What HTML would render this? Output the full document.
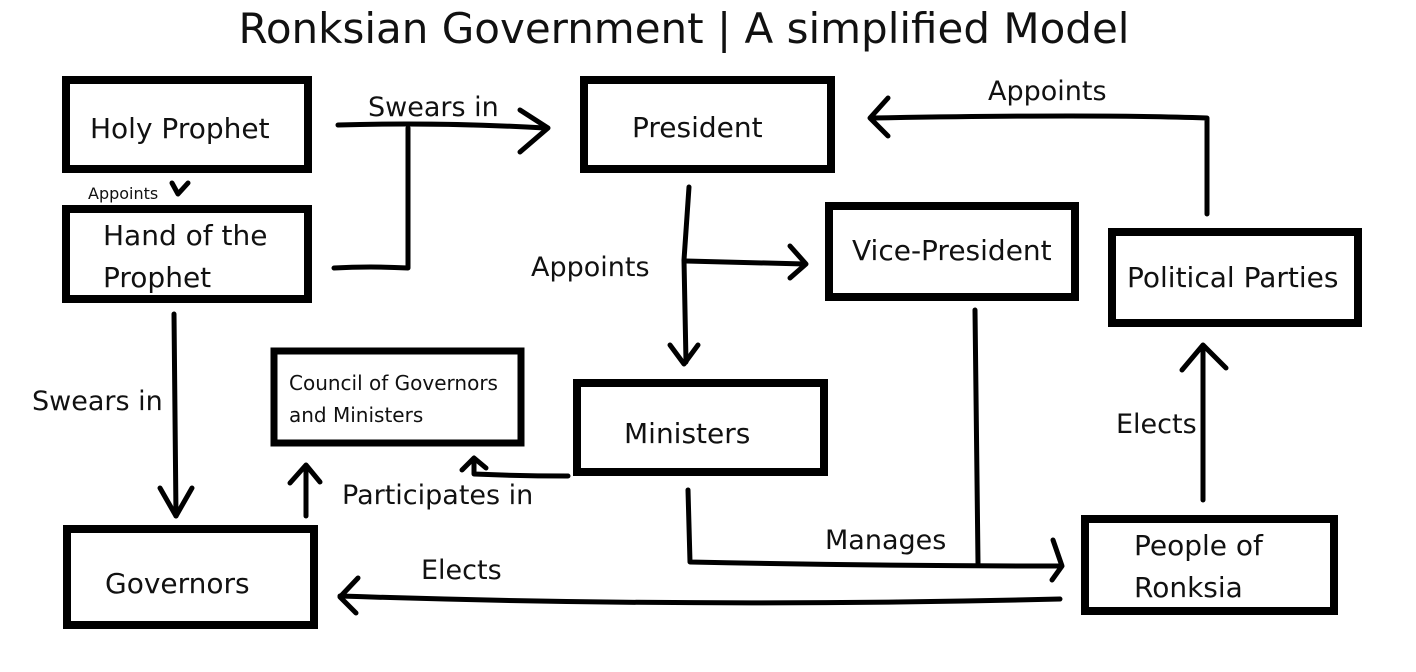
<!DOCTYPE html>
<html><head><meta charset="utf-8"><style>
html,body{margin:0;padding:0;background:#fff;}
svg{display:block;}
text{font-family:"DejaVu Sans","Liberation Sans",sans-serif;fill:#111;}
</style></head><body>
<svg width="1416" height="672" viewBox="0 0 1416 672" xmlns="http://www.w3.org/2000/svg">
<text x="684" y="43" font-size="42" text-anchor="middle">Ronksian Government | A simplified Model</text>
<g fill="none" stroke="#000" stroke-width="8">
<rect x="66" y="80" width="242" height="89"/>
<rect x="66" y="209" width="242" height="90"/>
<rect x="584" y="80" width="247" height="89"/>
<rect x="829" y="206" width="246" height="91"/>
<rect x="1112" y="232" width="246" height="91"/>
<rect x="274" y="351" width="247" height="92" stroke-width="7"/>
<rect x="577" y="383" width="247" height="89"/>
<rect x="67" y="529" width="247" height="96"/>
<rect x="1085" y="519" width="249" height="92"/>
</g>
<g font-size="28">
<text x="90" y="138">Holy Prophet</text>
<text x="103" y="245">Hand of the</text>
<text x="103" y="287">Prophet</text>
<text x="632" y="137">President</text>
<text x="852" y="260">Vice-President</text>
<text x="1127" y="287">Political Parties</text>
<text x="624" y="443">Ministers</text>
<text x="105" y="593">Governors</text>
<text x="1134" y="555">People of</text>
<text x="1134" y="597">Ronksia</text>
</g>
<g font-size="20">
<text x="289" y="390">Council of Governors</text>
<text x="289" y="422">and Ministers</text>
</g>
<g font-size="27">
<text x="368" y="116">Swears in</text>
<text x="988" y="100">Appoints</text>
<text x="531" y="276">Appoints</text>
<text x="32" y="410">Swears in</text>
<text x="1116" y="433">Elects</text>
<text x="342" y="504">Participates in</text>
<text x="825" y="549">Manages</text>
<text x="421" y="579">Elects</text>
</g>
<text x="88" y="199" font-size="16">Appoints</text>
<g fill="none" stroke="#000" stroke-width="5" stroke-linecap="round" stroke-linejoin="round">
<path d="M172 183 L178 194 L188 183"/>
<path d="M338 125 Q440 122 545 128"/>
<path d="M520 110 L548 128 L520 152"/>
<path d="M408 128 L408 268 Q370 266 334 268"/>
<path d="M1207 214 L1207 118 Q1100 114 872 118"/>
<path d="M888 98 L870 118 L888 136"/>
<path d="M689 187 L684 260 L686 362"/>
<path d="M670 345 L684 364 L698 345"/>
<path d="M686 261 L805 264"/>
<path d="M790 246 L806 264 L790 278"/>
<path d="M174 314 L176 516"/>
<path d="M160 488 L176 516 L192 488"/>
<path d="M1203 500 L1203 347"/>
<path d="M1182 370 L1203 345 L1226 368"/>
<path d="M306 516 L306 467"/>
<path d="M290 483 L306 465 L320 482"/>
<path d="M568 476 Q520 476 474 474 L474 462"/>
<path d="M462 470 L474 458 L486 468"/>
<path d="M688 490 L690 562 Q880 566 1060 566"/>
<path d="M1053 540 L1062 566 L1052 580"/>
<path d="M975 310 L978 563"/>
<path d="M1060 599 Q700 608 340 596"/>
<path d="M358 578 L340 597 L356 613"/>
</g>
</svg>
</body></html>
